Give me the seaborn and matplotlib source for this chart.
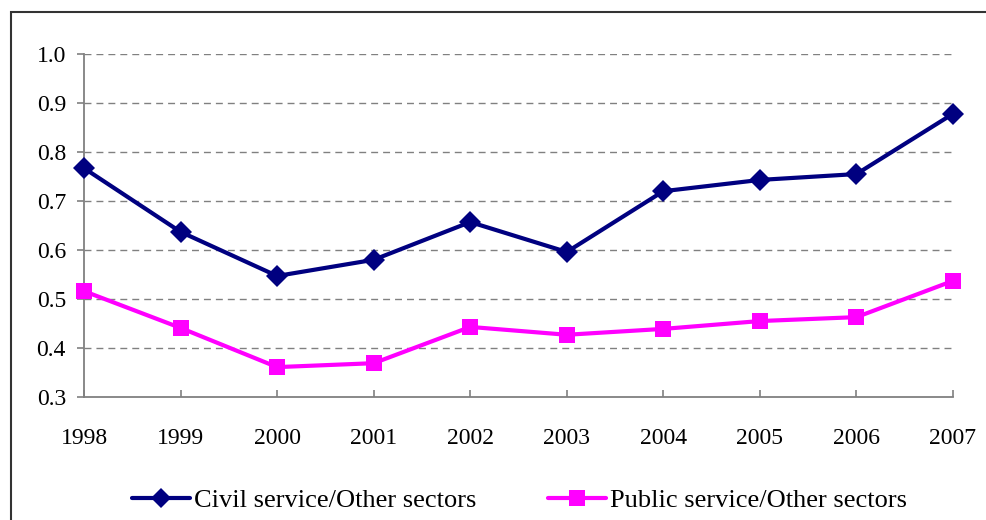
import matplotlib
matplotlib.use("Agg")
import matplotlib.pyplot as plt
import seaborn as sns
import pandas as pd
from matplotlib.patches import Rectangle
from matplotlib.lines import Line2D

years = [1998, 1999, 2000, 2001, 2002, 2003, 2004, 2005, 2006, 2007]
civil = [0.767, 0.637, 0.547, 0.580, 0.657, 0.596, 0.720, 0.743, 0.755, 0.878]
public = [0.516, 0.441, 0.361, 0.369, 0.443, 0.427, 0.439, 0.455, 0.463, 0.537]
series_names = ["Civil service/Other sectors", "Public service/Other sectors"]
yticks = [0.3, 0.4, 0.5, 0.6, 0.7, 0.8, 0.9, 1.0]

sns.set_style("white")
plt.rcParams['font.family'] = ['Liberation Serif', 'DejaVu Serif']
plt.rcParams['text.color'] = 'black'
plt.rcParams['xtick.labelcolor'] = 'black'
plt.rcParams['ytick.labelcolor'] = 'black'

df = pd.DataFrame({
    "year": years * 2,
    "value": civil + public,
    "series": [series_names[0]] * len(years) + [series_names[1]] * len(years),
})

fig = plt.figure(figsize=(9.86, 5.2), dpi=100)
ax = fig.add_axes([84/986, 1 - 397/520, (953-84)/986, (397-54)/520])

palette = {series_names[0]: "#000080", series_names[1]: "#FF00FF"}
markers = {series_names[0]: "D", series_names[1]: "s"}

sns.lineplot(data=df, x="year", y="value", hue="series", style="series",
             palette=palette, markers=markers, dashes=False, linewidth=3,
             markersize=11, markeredgewidth=0, ax=ax, legend=False)
for ln in ax.lines:
    ln.set_clip_on(False)
    ln.set_zorder(5)
    if ln.get_marker() == "s":
        ln.set_markersize(12)

ax.set_xlim(1998, 2007)
ax.set_ylim(0.3, 1.0)
ax.set_xticks(years)
ax.set_xticklabels([str(y) for y in years])
ax.set_yticks(yticks)
ax.set_yticklabels([f"{v:.1f}" for v in yticks])
ax.set_xlabel("")
ax.set_ylabel("")

for v in yticks[1:]:
    ax.axhline(v, color="#808080", lw=1.0, dashes=(5, 3.6), zorder=0)

for s in ["top", "right"]:
    ax.spines[s].set_visible(False)
for s in ["left", "bottom"]:
    ax.spines[s].set_color("#808080")
    ax.spines[s].set_linewidth(1.3)

ax.tick_params(axis="y", direction="out", length=5, width=1.2, color="#808080",
               pad=8, labelsize=17, left=True, labelcolor="black")
ax.tick_params(axis="x", direction="in", length=5, width=1.2, color="#808080",
               pad=22, labelsize=17, bottom=True, labelcolor="black")

handles = [Line2D([], [], color="#000080", lw=3, marker="D", markersize=10, markeredgewidth=0),
           Line2D([], [], color="#FF00FF", lw=3, marker="s", markersize=11, markeredgewidth=0)]
fig.legend(handles, series_names, loc="center", bbox_to_anchor=(0.527, 0.037),
           ncol=2, frameon=False, fontsize=19, handlelength=2.2, handletextpad=0.15,
           columnspacing=2.7)

fig.patches.append(Rectangle((11/986, -0.1), 1.2, 1.1 - 12/520, transform=fig.transFigure,
                             fill=False, edgecolor="#333333", lw=1.5))

fig.savefig("out.png", dpi=100)
